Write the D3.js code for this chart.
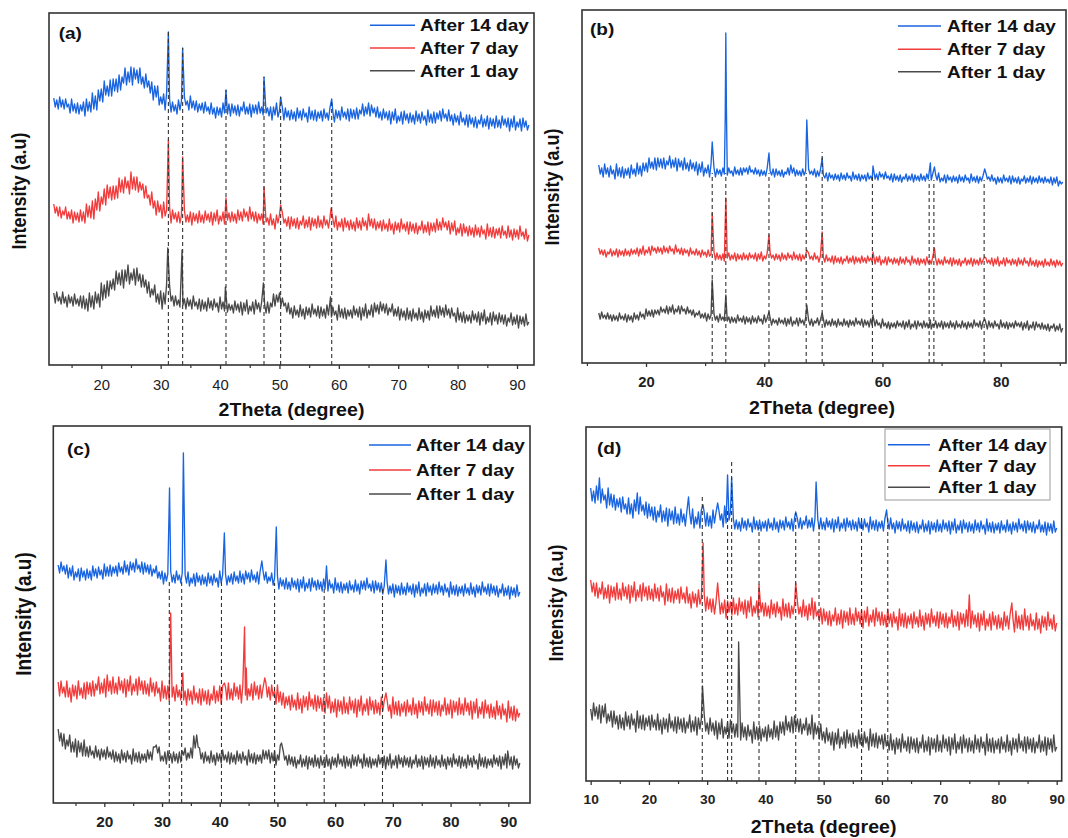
<!DOCTYPE html>
<html><head><meta charset="utf-8">
<script src="https://cdn.jsdelivr.net/npm/d3@7"></script>
<style>body{margin:0;background:#fff}svg{display:block}</style>
</head><body><svg id="c" width="1068" height="838"></svg>
<script>
const FONT = '"Liberation Sans", Arial, Helvetica, sans-serif';
const seriesNames = ["After 14 day", "After 7 day", "After 1 day"];
const colors = ["#1964e1", "#f23c3c", "#4a4a4a"];

// 2θ sampling grids (degrees, 0.25° step)
const thetaA = d3.range(12, 92.001, 0.25);
const thetaB = d3.range(12, 90.501, 0.25);
const thetaC = d3.range(12, 92.001, 0.25);
const thetaD = d3.range(10, 90.001, 0.25);

// Panel (a) intensities (a.u., stacked)
const a14 = [
267,258,265,256,268,258,265,256,266,258,261,252,266,254,261,252,262,251,260,254,
263,249,266,254,263,253,272,256,269,255,275,264,276,263,284,270,279,269,285,269,
286,274,286,273,290,275,288,282,297,280,293,283,298,280,297,286,295,282,297,281,
288,277,291,278,284,272,283,265,279,268,279,260,268,261,271,255,272,259,266,253,
263,254,260,251,265,255,264,255,268,260,264,255,269,257,264,255,264,253,261,255,
262,252,263,254,258,251,262,251,257,247,258,250,257,248,262,252,258,251,261,249,
261,252,259,250,260,249,258,254,263,251,258,251,261,248,260,252,260,251,263,252,
258,250,261,252,257,249,258,245,258,250,262,248,254,249,257,245,257,248,254,245,
255,246,253,244,257,247,254,245,256,248,252,243,258,246,254,245,255,244,253,247,
254,244,256,247,252,245,257,246,253,243,255,247,254,245,258,248,253,246,256,244,
256,247,255,246,257,246,255,251,261,249,258,251,262,249,260,252,257,248,258,247,
253,245,256,247,253,245,254,241,253,245,256,242,249,244,253,241,254,245,251,242,
252,243,250,241,254,244,251,242,253,245,249,240,255,243,251,242,253,242,252,246,
254,244,256,247,251,244,255,244,250,240,251,243,249,240,253,243,247,240,250,238,
250,241,247,238,248,237,245,241,250,238,246,239,249,236,247,239,246,237,249,238,
245,237,249,240,246,238,247,234,246,238,249,235,243,238,246,234,247,238,244,235,
240];
const a7 = [
161,152,158,149,158,147,154,150,158,146,153,146,155,142,153,145,152,143,155,144,
153,142,161,148,159,147,164,146,166,155,173,154,168,161,176,160,180,167,178,165,
179,166,179,167,187,173,185,172,188,177,184,171,193,176,188,175,188,173,183,175,
181,167,179,167,170,160,173,157,164,150,164,153,160,147,163,149,155,145,158,142,
155,146,152,143,153,142,150,146,155,143,150,143,153,140,152,144,151,142,154,143,
150,142,154,145,151,143,153,140,152,144,155,141,149,144,153,141,154,145,152,143,
153,144,151,142,155,145,153,144,156,148,153,144,158,146,153,144,153,142,151,145,
151,141,152,143,147,140,151,140,146,136,150,142,150,141,152,142,146,139,148,136,
148,139,146,137,147,136,144,140,149,137,145,138,148,135,147,139,146,137,149,138,
145,137,149,140,145,137,147,134,146,138,149,135,143,138,146,134,147,138,144,135,
145,136,143,134,147,137,144,135,147,139,144,135,151,139,146,137,146,135,143,137,
144,134,145,136,141,134,146,135,141,131,143,135,142,133,146,136,141,134,143,131,
143,134,141,132,142,131,139,135,144,132,140,133,143,130,142,134,142,133,146,135,
143,135,147,138,143,135,144,131,142,134,144,130,137,132,141,129,141,132,138,129,
139,130,137,128,140,130,137,128,139,131,135,126,141,129,137,128,138,127,136,130,
137,127,139,130,134,127,139,128,135,125,136,128,135,126,139,129,133,126,136,124,
130];
const a1 = [
72,62,73,64,68,61,73,62,68,58,70,62,68,59,71,61,66,59,69,57,
69,56,66,54,72,58,69,56,73,62,71,58,82,65,80,67,84,69,84,76,
86,75,94,81,92,80,95,77,95,84,100,81,92,85,96,80,97,84,91,78,
90,78,85,72,83,68,76,70,80,63,71,61,74,56,72,61,81,68,80,64,
69,59,69,60,65,58,71,60,66,56,67,59,65,56,69,59,63,56,66,54,
65,56,63,54,67,57,64,55,66,58,62,53,68,56,63,54,64,53,61,55,
60,52,64,55,61,53,63,50,62,54,65,51,59,54,63,51,65,56,62,53,
63,54,61,52,63,52,62,58,71,59,70,63,72,59,67,59,62,53,62,51,
57,47,59,50,55,48,60,49,56,46,58,50,57,48,61,51,56,49,59,47,
58,49,56,47,60,50,57,48,58,50,54,45,60,48,56,47,57,46,55,49,
55,47,59,50,56,48,58,45,57,49,61,47,55,50,60,48,62,53,60,51,
63,54,61,52,61,50,57,53,61,49,56,49,58,45,56,48,54,45,57,46,
54,44,56,47,52,45,57,46,53,43,55,47,54,45,59,49,55,48,59,47,
59,50,57,48,60,50,56,47,57,49,52,43,57,45,52,43,53,42,50,44,
50,42,54,45,51,43,53,40,52,44,55,41,48,43,52,40,53,44,50,41,
52,43,50,41,50,39,47,43,52,40,48,41,50,37,49,41,48,39,51,40,
43];
const aPk14 = [[31.3,333],[33.7,317],[41.0,275],[47.4,288],[50.2,268],[58.8,266]];
const aPk7 = [[31.3,225],[33.7,208],[41.0,167],[47.4,178],[50.2,160],[58.7,157]];
const aPk1 = [[31.2,117],[33.6,115],[40.9,78],[47.3,82],[58.6,68]];
const aRefs = [31.3,33.7,41.0,47.4,50.2,58.8];
const aRefTop = [333,317,275,288,268,266];

// Panel (b)
const b14 = [
198,189,195,186,199,189,195,186,197,189,193,184,199,187,195,186,196,185,194,188,
195,185,198,189,194,187,200,189,197,187,200,192,200,191,205,195,201,194,205,193,
205,196,204,195,205,194,202,198,207,195,203,196,205,192,204,196,202,193,205,194,
200,192,203,194,200,192,201,188,199,191,201,187,195,190,198,186,199,190,195,186,
194,189,193,187,195,189,193,188,195,190,192,187,196,189,193,188,195,188,195,191,
195,189,197,191,193,189,195,189,193,187,193,188,192,187,195,189,192,188,194,186,
194,188,192,187,193,186,191,189,195,188,194,190,195,187,193,188,192,187,194,188,
192,187,194,189,192,188,194,186,192,187,193,184,188,185,190,182,190,185,188,183,
189,184,188,182,190,184,188,183,190,185,187,182,191,184,188,183,189,182,188,184,
188,182,190,184,187,183,190,184,189,183,191,186,189,184,191,185,187,183,189,181,
189,183,187,182,188,181,186,184,189,182,187,183,189,181,188,183,187,182,189,183,
187,182,189,184,187,183,189,181,188,183,190,181,185,182,188,180,188,183,186,181,
187,182,186,180,188,182,186,181,188,183,185,180,189,182,186,181,187,180,186,182,
187,181,190,184,186,182,188,182,185,179,186,181,185,180,188,182,185,181,187,179,
187,181,185,180,186,179,184,182,187,180,185,181,187,179,186,181,185,180,187,181,
185,180,186,181,184,180,186,178,185,180,186,177,182,179,
181];
const b7 = [
115,109,113,108,113,106,111,109,114,107,112,108,114,106,113,108,112,107,114,108,
112,107,114,109,113,109,115,107,114,109,117,108,113,110,116,108,117,112,115,110,
116,111,115,109,117,111,115,110,117,112,114,109,118,111,114,109,115,108,114,110,
113,107,115,109,112,108,114,108,112,106,113,108,111,106,113,107,109,105,111,103,
110,104,108,103,109,102,107,105,110,103,108,104,110,102,109,104,108,103,110,104,
108,103,110,105,108,104,110,102,109,104,111,102,107,104,110,102,110,105,108,103,
109,104,108,102,110,104,108,103,110,105,108,103,111,104,108,103,109,102,108,104,
108,102,110,104,107,103,110,104,107,101,107,102,106,101,108,102,105,101,107,99,
107,101,105,100,106,99,104,102,107,100,105,101,107,99,106,101,105,100,107,101,
105,100,107,102,105,101,107,99,106,101,107,98,103,100,106,98,106,101,104,99,
105,100,104,98,106,100,104,99,106,101,103,98,107,100,104,99,105,98,104,100,
104,98,106,100,103,99,106,100,104,98,104,99,103,98,106,100,103,99,105,97,
105,99,103,98,104,97,102,100,105,98,103,99,105,97,104,99,103,98,105,99,
103,98,105,100,103,99,105,97,104,99,106,97,102,99,105,97,105,100,103,98,
104,99,103,97,105,99,103,98,105,100,102,97,105,98,102,97,103,96,102,98,
102,96,104,98,101,97,104,98,102,96,103,98,102,97,
100];
const b1 = [
50,44,51,45,48,44,50,44,48,42,48,43,47,42,50,44,47,43,49,41,
48,43,47,41,50,44,48,43,51,46,49,44,54,47,52,47,53,46,53,49,
53,48,56,51,54,50,57,49,56,51,58,49,54,51,57,49,57,52,54,49,
56,50,53,48,53,46,50,48,52,45,49,45,50,42,49,44,48,43,49,43,
47,41,49,43,46,42,48,42,46,40,46,41,45,40,48,42,45,41,47,39,
46,41,45,39,47,41,45,40,47,42,44,39,48,41,45,40,45,38,44,40,
43,38,45,40,43,39,45,37,44,39,46,37,42,39,45,37,45,40,43,38,
45,39,43,38,44,37,42,40,45,38,43,39,44,36,43,38,42,37,44,38,
42,36,44,38,41,37,44,38,42,36,43,38,42,37,45,39,42,38,44,36,
43,38,42,36,44,38,42,37,43,38,40,35,44,37,40,35,41,34,40,36,
40,35,42,37,40,36,42,34,41,36,43,34,39,36,42,34,42,37,40,35,
42,36,40,35,41,34,39,37,42,35,40,36,42,34,41,36,40,35,42,36,
40,34,42,36,39,35,42,36,40,34,41,36,40,35,43,37,40,36,42,34,
41,36,40,34,42,36,40,35,42,37,39,34,43,36,40,35,41,34,40,36,
40,35,42,37,40,36,41,33,40,35,42,33,38,35,41,33,41,36,39,34,
40,34,38,33,39,32,37,35,39,32,37,33,39,31,
35];
const bPk14 = [[31.2,221],[33.4,245],[33.5,330],[33.6,255],[37.5,197],[40.8,210],[44.5,198],[47.2,243],[49.8,205],[58.4,197],[68.1,200],[68.8,196],[77.3,194]];
const bPk7 = [[31.2,150],[33.5,165],[40.8,128],[47.2,113],[49.8,131],[58.4,111],[68.8,115],[77.3,106]];
const bPk1 = [[31.2,83],[33.5,68],[40.8,51],[47.2,58],[49.8,50],[58.4,48],[68.1,43],[77.3,44]];
const bRefs = [31.2,33.5,40.8,47.1,49.8,58.3,67.9,68.7,77.2];
const bRefTop = [190,190,190,190,211,186,183,183,183];

// Panel (c)
const c14 = [
238,230,241,232,237,229,238,225,235,227,237,223,231,226,234,222,235,226,232,223,
234,225,232,223,237,227,234,225,236,228,233,224,239,227,236,227,238,227,236,230,
237,227,240,231,236,229,242,231,238,228,241,233,240,231,244,234,238,231,241,229,
240,231,238,229,238,227,234,230,237,225,231,224,232,219,230,222,229,220,232,221,
228,220,232,223,228,220,230,217,228,220,231,217,225,220,229,217,230,221,227,218,
228,219,226,217,230,220,227,218,229,221,225,216,232,220,228,219,229,218,227,221,
229,219,231,222,227,220,232,221,229,219,232,224,230,221,233,223,228,221,231,219,
232,223,232,223,231,220,226,222,230,218,225,218,227,214,225,217,223,214,225,214,
221,213,225,216,222,214,224,211,223,215,226,212,220,215,224,212,225,216,222,213,
223,214,221,212,224,214,221,212,223,215,219,210,225,213,220,211,221,210,219,213,
220,210,222,213,218,211,223,212,219,209,222,214,222,213,225,215,219,212,222,210,
222,213,220,211,220,209,217,213,221,209,217,210,219,206,218,210,217,208,220,209,
216,208,220,211,217,209,219,206,218,210,221,207,215,210,219,207,220,211,217,208,
219,210,218,209,221,211,217,208,219,211,215,206,221,209,217,208,218,207,216,210,
217,207,219,210,215,208,220,209,216,206,218,210,217,208,221,211,216,209,219,207,
219,210,217,208,217,206,214,210,219,207,215,208,217,204,216,208,215,206,218,207,
211];
const c7 = [
121,107,122,110,116,106,122,106,115,101,118,107,117,104,122,108,115,105,120,104,
121,109,120,107,122,107,119,113,126,109,120,110,124,106,128,112,122,109,126,110,
120,109,126,113,122,110,124,106,123,112,127,108,119,112,124,108,126,113,122,109,
122,109,119,107,125,111,120,107,121,110,115,102,122,105,117,104,117,102,114,106,
116,102,118,106,113,103,119,103,112,98,114,103,112,99,117,103,110,100,114,98,
114,102,112,99,113,98,109,103,117,100,112,102,117,99,117,106,116,103,120,104,
114,103,120,107,116,104,118,100,118,107,122,103,114,107,119,103,121,108,117,104,
118,105,115,103,120,106,116,103,118,107,112,99,118,101,111,98,110,95,106,98,
107,93,108,96,103,93,110,94,104,90,107,96,106,93,111,97,104,94,108,92,
107,95,105,92,105,90,101,95,107,90,101,91,104,86,103,92,102,89,106,90,
100,89,106,93,102,90,104,86,103,92,107,88,99,92,104,88,106,93,102,89,
103,90,100,88,106,92,102,89,103,92,98,85,106,89,101,88,102,87,99,91,
101,87,103,91,98,88,105,89,99,85,102,91,101,88,106,92,99,89,103,87,
103,91,101,88,102,87,98,92,105,88,99,89,103,85,102,91,101,88,105,89,
99,88,105,92,100,88,102,84,101,90,104,85,96,89,101,85,103,90,98,85,
99,86,96,84,102,88,97,84,99,88,94,81,102,85,96,83,97,82,94,86,
90];
const c1 = [
74,62,70,57,69,54,63,57,68,51,61,51,64,46,62,51,60,47,63,47,
56,46,57,48,52,45,57,46,53,43,54,46,53,44,56,46,51,44,53,41,
51,42,49,40,53,43,50,41,52,44,48,39,54,42,50,41,51,40,49,43,
49,41,53,44,51,43,56,43,58,50,56,42,47,42,51,39,52,43,49,40,
51,42,49,40,51,41,52,48,55,43,50,45,55,45,67,55,68,56,55,44,
50,40,51,42,47,40,52,41,48,38,50,42,49,40,53,43,48,41,51,39,
50,41,48,39,52,42,49,40,51,43,47,38,53,41,49,40,50,39,48,42,
48,40,53,44,52,44,53,40,50,42,52,38,48,43,58,46,52,43,47,38,
48,39,46,37,46,35,43,39,48,36,44,37,47,34,46,38,45,36,48,37,
45,35,47,38,43,36,48,37,44,34,46,38,45,36,49,39,44,37,47,35,
46,37,44,35,48,38,46,37,48,40,44,35,49,37,45,36,46,35,44,38,
44,36,48,39,45,37,47,34,46,38,49,35,43,38,47,35,48,39,45,36,
47,38,45,36,46,35,43,39,48,36,44,37,47,34,46,38,45,36,48,37,
45,35,47,38,43,36,48,37,44,34,46,38,45,36,49,39,44,37,47,35,
46,37,44,35,48,38,45,36,47,39,43,34,49,37,45,36,46,35,44,38,
44,36,48,39,45,37,47,34,46,38,49,35,43,38,46,34,47,38,44,35,
40];
const cPk14 = [[31.3,315],[33.7,350],[40.8,270],[47.3,242],[49.8,276],[58.5,237],[68.8,243]];
const cPk7 = [[31.5,190],[33.6,130],[40.8,120],[44.3,176],[44.45,108],[44.6,135],[47.8,125],[58.5,110],[68.8,110]];
const cPk1 = [[28.8,56],[50.7,60],[89.9,52]];
const cRefs = [31.26,33.4,40.3,49.5,58.1,68.2];
const cRefTop = [223,224,222,220,217,215];

// Panel (d)
const d14 = [
293,280,290,278,295,281,303,278,292,281,286,273,293,276,287,274,286,271,282,274,
283,269,284,272,277,267,283,267,277,263,281,270,288,267,284,270,276,266,279,263,
277,265,274,261,274,259,270,264,276,259,270,260,273,255,272,261,270,257,274,258,
267,256,272,259,267,255,269,251,268,257,272,253,264,257,269,253,271,258,268,255,
268,255,265,253,271,258,268,256,271,261,267,254,275,258,270,261,269,254,262,252,
261,252,259,250,263,253,260,251,262,254,258,249,264,252,260,251,261,250,259,253,
260,250,262,253,258,251,263,252,259,249,261,253,260,251,264,254,259,252,262,250,
263,254,262,253,263,252,260,256,265,253,261,254,263,250,262,254,261,252,263,252,
259,251,263,254,260,252,262,249,261,253,264,250,258,253,262,250,263,254,260,251,
261,252,259,250,263,253,260,251,262,254,258,249,264,252,260,251,261,250,259,253,
260,250,262,253,259,252,263,252,258,248,260,252,259,250,262,252,257,250,260,248,
260,251,258,249,259,248,256,252,261,249,257,250,260,247,259,251,258,249,261,250,
257,249,261,252,258,250,260,247,259,251,262,248,256,251,260,248,261,252,258,249,
259,250,257,248,261,251,258,249,260,252,256,247,262,250,258,249,259,248,257,251,
258,248,260,251,256,249,261,250,257,247,259,251,258,249,262,252,257,250,260,248,
260,251,258,249,259,248,256,252,261,249,256,249,259,246,258,250,257,248,260,249,
253];
const d7 = [
201,189,198,185,198,183,193,187,199,182,193,183,196,178,195,184,194,181,198,182,
192,181,198,185,194,182,196,178,195,184,199,180,191,184,196,180,198,185,194,181,
195,182,192,180,197,183,193,180,195,184,189,176,197,180,192,179,193,178,190,182,
192,178,194,182,188,178,194,178,187,173,189,178,187,174,191,177,183,173,186,170,
184,172,182,169,182,167,178,172,184,167,178,168,181,163,180,169,179,166,183,167,
177,166,183,170,179,167,181,163,180,169,184,165,175,168,180,164,182,169,178,165,
178,165,175,163,181,167,177,164,179,168,174,161,182,165,177,164,178,163,175,167,
177,163,179,167,174,164,181,165,175,161,177,166,175,162,179,165,170,160,173,157,
172,160,169,156,170,155,166,160,173,156,167,157,171,153,170,159,169,156,173,157,
167,156,173,160,169,157,171,153,170,159,174,155,166,159,171,155,173,160,169,156,
169,156,166,154,172,158,167,154,169,158,164,151,172,155,167,154,168,153,165,157,
167,153,169,157,164,154,171,155,165,151,168,157,167,154,172,158,165,155,169,153,
169,157,167,154,168,153,164,158,171,154,165,155,169,151,168,157,167,154,171,155,
164,153,170,157,166,154,168,150,167,156,170,151,162,155,167,151,169,156,165,152,
166,153,163,151,169,155,165,152,167,156,162,149,170,153,165,152,166,151,163,155,
165,151,167,155,161,151,168,152,162,148,165,154,164,151,169,155,162,152,166,150,
158];
const d1 = [
72,61,78,65,74,62,76,58,75,64,77,58,67,60,70,54,70,57,65,52,
66,53,63,51,69,55,65,52,67,56,62,49,70,53,65,52,66,51,63,55,
65,51,66,54,61,51,67,51,61,47,63,52,62,49,67,53,60,50,64,48,
64,52,62,49,63,48,59,53,66,49,60,50,64,46,63,52,62,49,66,50,
58,47,63,50,58,46,60,42,58,47,62,43,54,47,59,43,61,48,57,44,
57,44,53,41,58,44,54,41,56,45,51,38,59,42,54,41,55,40,52,44,
54,40,56,44,52,42,60,44,55,41,59,48,59,46,65,51,59,49,64,48,
65,53,62,49,62,47,57,51,63,46,57,47,60,42,58,47,55,42,57,41,
49,38,53,40,48,36,49,31,48,37,52,33,44,37,49,33,51,38,47,34,
48,35,45,33,51,37,47,34,49,38,44,31,52,35,47,34,48,33,45,37,
46,32,47,35,41,31,47,31,41,27,43,32,42,29,47,33,40,30,44,28,
44,32,42,29,43,28,39,33,46,29,40,30,44,26,43,32,42,29,46,30,
40,29,46,33,42,30,44,26,43,32,47,28,39,32,44,28,46,33,42,29,
43,30,40,28,46,32,42,29,44,33,39,26,47,30,42,29,43,28,40,32,
42,28,44,32,39,29,46,30,40,26,43,32,42,29,47,33,40,30,44,28,
44,32,42,29,43,28,39,33,46,29,40,30,44,26,43,32,42,29,46,30,
34];
const dPk14 = [[26.8,284],[29.3,276],[31.8,278],[33.5,306],[34.2,303],[45.2,269],[48.7,299],[60.8,271]];
const dPk7 = [[29.3,238],[31.8,198],[38.9,196],[45.2,198],[48.0,183],[75.0,186],[82.3,178],[84.5,172]];
const dPk1 = [[29.2,95],[35.4,139],[48.0,66]];
const dRefs = [29.16,33.5,34.2,38.9,45.2,49.2,56.5,61.0];
const dRefTop = [287,273,322,254,268,258,264,264];

// Tick values
const aTicks = [20,30,40,50,60,70,80,90], aMinor = [15,25,35,45,55,65,75,85];
const bTicks = [20,40,60,80], bMinor = [10,30,50,70,90];
const cTicks = [20,30,40,50,60,70,80,90], cMinor = [15,25,35,45,55,65,75,85];
const dTicks = [10,20,30,40,50,60,70,80,90], dMinor = [15,25,35,45,55,65,75,85];

// Layout
const panels = [
  {id:"(a)", theta:thetaA, vals:[a14,a7,a1], peaks:[aPk14,aPk7,aPk1], refs:aRefs, refTop:aRefTop,
   xd:[11.2,92.86], box:[49,13,534,365], yMax:352, major:aTicks, minor:aMinor, tickBold:false, tickSize:14, tickY:385,
   title:[291.5,410], ylab:[19,191,18], legend:{x1:370,x2:415,ys:[25.3,48,70.7],tx:420}, lab:[58.7,33]},
  {id:"(b)", theta:thetaB, vals:[b14,b7,b1], peaks:[bPk14,bPk7,bPk1], refs:bRefs, refTop:bRefTop,
   xd:[9.17,91.05], box:[582,10,1066,363], yMax:353, major:bTicks, minor:bMinor, tickBold:true, tickSize:14, tickY:382,
   title:[822,408], ylab:[552,187,18], legend:{x1:898,x2:941,ys:[26,49.3,71.7],tx:947}, lab:[590,29]},
  {id:"(c)", theta:thetaC, vals:[c14,c7,c1], peaks:[cPk14,cPk7,cPk1], refs:cRefs, refTop:cRefTop,
   xd:[11.16,93.76], box:[53.3,426,530,803], yMax:377, major:cTicks, minor:cMinor, tickBold:true, tickSize:14.5, tickY:822,
   title:null, ylab:[24,614,19], legend:{x1:369,x2:411,ys:[445,470,494],tx:416}, lab:[67,449]},
  {id:"(d)", theta:thetaD, vals:[d14,d7,d1], peaks:[dPk14,dPk7,dPk1], refs:dRefs, refTop:dRefTop,
   xd:[9.2,90.86], box:[586,427,1061.7,781], yMax:354, major:dTicks, minor:dMinor, tickBold:true, tickSize:13, tickY:799,
   title:[823.6,826.7], ylab:[556,603,18], legend:{x1:888,x2:930,ys:[444.7,465.7,487.3],tx:938,box:[885,429,1050,500]}, lab:[597,448]}
];

const SX = 1.12;
const svg = d3.select("#c");
svg.append("rect").attr("width",1068).attr("height",838).attr("fill","#fff");

function stext(g, x, y, s, size, o = {}) {
  return g.append("text")
    .attr("transform", `translate(${x},${y}) scale(${o.sx || SX},1)${o.rot ? " rotate(-90)" : ""}`)
    .attr("font-family", FONT).attr("font-size", size).attr("font-weight", o.weight || "bold")
    .attr("fill", o.fill || "#111").attr("text-anchor", o.anchor || "start").attr("dy", "0.35em").text(s);
}
function merge(theta, vals, peaks) {
  const n = Math.min(theta.length, vals.length);
  const pts = [];
  for (let i = 0; i < n; i++) {
    if (!peaks.some(k => Math.abs(k[0] - theta[i]) < 0.12)) pts.push([theta[i], vals[i]]);
  }
  return pts.concat(peaks).sort((p, q) => p[0] - q[0]);
}

panels.forEach(p => {
  const [L, T, R, B] = p.box;
  const x = d3.scaleLinear().domain(p.xd).range([L, R]);
  const y = d3.scaleLinear().domain([0, p.yMax]).range([B, T]);
  const g = svg.append("g");
  const line = d3.line().x(d => x(d[0])).y(d => y(d[1]));
  [2, 1, 0].forEach(k => {
    g.append("path").datum(merge(p.theta, p.vals[k], p.peaks[k])).attr("d", line)
      .attr("fill", "none").attr("stroke", colors[k]).attr("stroke-width", 1.35).attr("stroke-linejoin", "round");
  });
  p.refs.forEach((r, i) => {
    g.append("line").attr("x1", x(r)).attr("x2", x(r)).attr("y1", B).attr("y2", y(p.refTop[i]))
      .attr("stroke", "#333").attr("stroke-width", 1.1).attr("stroke-dasharray", "4,3");
  });
  g.append("rect").attr("x", L).attr("y", T).attr("width", R - L).attr("height", B - T)
    .attr("fill", "none").attr("stroke", "#333").attr("stroke-width", 1.6);

  const ax = g.append("g").attr("transform", `translate(0,${B})`).attr("font-family", FONT)
    .call(d3.axisBottom(x).tickValues(p.major).tickSize(4).tickFormat(d3.format("d")));
  ax.select(".domain").remove();
  ax.selectAll("line").attr("stroke", "#333").attr("stroke-width", 1.3);
  ax.selectAll("text").attr("y", p.tickY - B).attr("dy", "0.35em").attr("font-size", p.tickSize)
    .attr("font-weight", p.tickBold ? "bold" : "normal").attr("fill", "#222").attr("transform", "scale(1.06,1)");
  const mn = g.append("g").attr("transform", `translate(0,${B})`)
    .call(d3.axisBottom(x).tickValues(p.minor).tickSize(3).tickFormat(""));
  mn.select(".domain").remove();
  mn.selectAll("line").attr("stroke", "#333").attr("stroke-width", 1.2);

  if (p.legend.box) {
    const b = p.legend.box;
    g.append("rect").attr("x", b[0]).attr("y", b[1]).attr("width", b[2] - b[0]).attr("height", b[3] - b[1])
      .attr("fill", "#fff").attr("stroke", "#aaa").attr("stroke-width", 1.2);
  }
  p.legend.ys.forEach((ly, k) => {
    g.append("line").attr("x1", p.legend.x1).attr("x2", p.legend.x2).attr("y1", ly).attr("y2", ly)
      .attr("stroke", colors[k]).attr("stroke-width", 1.6);
    stext(g, p.legend.tx, ly, seriesNames[k], 17);
  });
  stext(g, p.lab[0], p.lab[1], p.id, 17);
  stext(g, p.ylab[0], p.ylab[1], "Intensity (a.u)", p.ylab[2], {rot: true, anchor: "middle"});
  if (p.title) stext(g, p.title[0], p.title[1], "2Theta (degree)", 17.5, {anchor: "middle"});
});
</script>
</body></html>
